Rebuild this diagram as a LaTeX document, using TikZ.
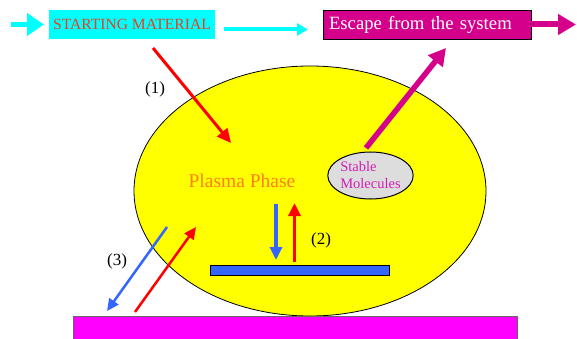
\documentclass[tikz,border=0pt]{standalone}
\usepackage{fontspec}
\setmainfont{Liberation Serif}
\usetikzlibrary{arrows.meta,shapes.geometric}
\definecolor{cyanc}{RGB}{0,255,255}
\definecolor{magdark}{RGB}{212,0,140}
\definecolor{startred}{RGB}{232,64,32}
\definecolor{plasmaor}{RGB}{255,128,20}
\definecolor{stablemag}{RGB}{210,30,180}
\definecolor{lblue}{RGB}{51,102,255}
\definecolor{barmag}{RGB}{255,0,255}
\definecolor{lgray}{RGB}{221,221,221}
\definecolor{plasmayel}{RGB}{255,255,0}
\begin{document}
\begin{tikzpicture}[x=1pt,y=-1pt,
  lbl/.style={font=\fontsize{17}{17}\selectfont, anchor=base, inner sep=0pt},
  thinarrow/.style={line width=2.5pt, -{Triangle[length=12pt,width=11pt]}},
  midarrow/.style={line width=3.5pt, -{Triangle[length=13pt,width=12pt]}}
]
\useasboundingbox (0,0) rectangle (577,339);
\clip (0,0) rectangle (577,339);

% plasma ellipse
\node[ellipse, fill=plasmayel, draw=black, line width=0.8pt, minimum width=352pt, minimum height=250pt, inner sep=0pt] (plasma) at (310,191) {};
\node[font=\fontsize{19.5}{20}\selectfont, text=plasmaor, anchor=base, inner sep=0pt] (pp) at (242,187) {Plasma Phase};

% substrate bar
\node[fill=barmag, draw=black!60, line width=0.8pt, minimum width=444pt, minimum height=30pt, anchor=north west, inner sep=0pt] (substrate) at (73,316) {};

% surface bar
\node[fill=lblue, draw=black, line width=0.8pt, minimum width=179pt, minimum height=10pt, inner sep=0pt] (surf) at (299.5,270) {};

% stable molecules
\node[ellipse, fill=lgray, draw=black, line width=1pt, minimum width=85pt, minimum height=47pt, inner sep=0pt, text=stablemag, align=left, font=\fontsize{14.5}{17}\selectfont] (stable) at (370.5,175.5) {Stable\\Molecules};

% top boxes
\node[fill=cyanc, minimum width=166pt, minimum height=29pt, inner sep=0pt, text=startred, font=\fontsize{15.6}{16}\selectfont] (start) at (132,24.5) {STARTING MATERIAL};
\node[fill=magdark, draw=black, line width=0.8pt, minimum width=208pt, minimum height=29pt, inner xsep=6pt, inner ysep=0pt, text width=196pt, align=left, text=white, font=\fontsize{18.7}{19}\selectfont] (esc) at (427,24.5) {Escape from the system};

% coordinates
\coordinate (inL) at (11,24.5);
\coordinate (inT) at (44,24.5);
\coordinate (midS) at (224,29.5);
\coordinate (midE) at (308,29.5);
\coordinate (outE) at (576,24.5);
\coordinate (escS) at (366,148);
\coordinate (escE) at (446,48);
\coordinate (r1s) at (153,48);
\coordinate (r1e) at (231,143);
\coordinate (bdS) at (276,204);
\coordinate (bdE) at (276,260);
\coordinate (ruS) at (294.5,262);
\coordinate (ruE) at (294.5,203);
\coordinate (b3S) at (167,227);
\coordinate (b3E) at (107,311);
\coordinate (r3S) at (135,312);
\coordinate (r3E) at (196,227);

% arrows top
\draw[cyanc, line width=5pt, -{Triangle[length=17pt,width=22pt]}] (inL) -- (inT);
\draw[cyanc, line width=4pt, -{Triangle[length=11pt,width=12pt]}] (midS) -- (midE);
\draw[magdark, line width=6pt, -{Triangle[length=18pt,width=20pt]}] (esc.east) -- (outE);
\draw[magdark, line width=5.5pt, -{Triangle[length=17pt,width=18pt]}] (escS) -- (escE);

% (1)
\draw[red, line width=3pt, -{Triangle[length=14pt,width=13pt]}] (r1s) -- (r1e);
\node[lbl] (l1) at (155,94) {(1)};

% (2)
\draw[lblue, midarrow] (bdS) -- (bdE);
\draw[red, midarrow] (ruS) -- (ruE);
\node[lbl] (l2) at (321,244) {(2)};

% (3)
\draw[lblue, thinarrow] (b3S) -- (b3E);
\draw[red, thinarrow] (r3S) -- (r3E);
\node[lbl] (l3) at (117,265) {(3)};
\end{tikzpicture}
\end{document}
